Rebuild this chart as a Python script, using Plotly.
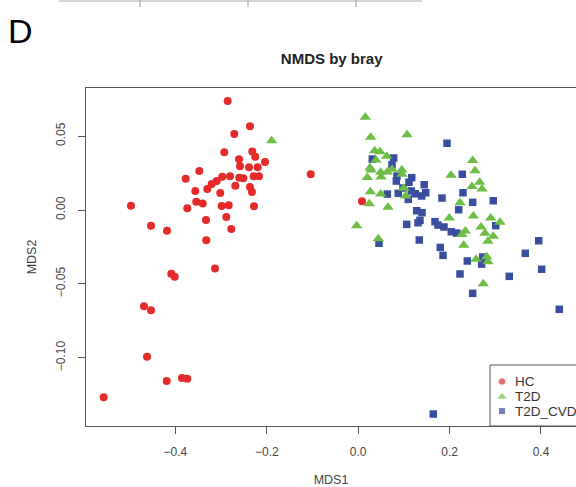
import plotly.graph_objects as go

# NMDS ordination scores (Bray-Curtis) per group
hc_mds1 = [-0.2856, -0.2368, -0.2711, -0.2930, -0.2317, -0.2252, -0.2608, -0.2039,
           -0.3477, -0.2586, -0.2389, -0.2199, -0.3775, -0.2974, -0.2805, -0.2602,
           -0.2514, -0.2287, -0.2171, -0.3096, -0.3206, -0.3302, -0.2689, -0.2368,
           -0.2324, -0.3565, -0.3018, -0.1039, -0.4972, -0.3543, -0.3403, -0.2987,
           -0.2834, -0.2280, -0.3740, -0.2886, -0.3330, -0.4534, -0.4184, -0.2777,
           -0.3324, -0.3133, -0.4090, -0.4015, -0.4687, -0.4534, -0.4621, -0.4190,
           -0.3856, -0.3740, -0.5569, 0.0083]
hc_mds2 = [0.0738, 0.0567, 0.0515, 0.0391, 0.0397, 0.0361, 0.0343, 0.0325,
           0.0264, 0.0296, 0.0289, 0.0289, 0.0212, 0.0225, 0.0228, 0.0219,
           0.0215, 0.0228, 0.0228, 0.0196, 0.0176, 0.0142, 0.0165, 0.0156,
           0.0122, 0.0129, 0.0115, 0.0242, 0.0029, 0.0056, 0.0045, 0.0027,
           0.0032, 0.0025, 0.0012, -0.0047, -0.0068, -0.0106, -0.0140, -0.0129,
           -0.0205, -0.0395, -0.0431, -0.0452, -0.0652, -0.0679, -0.0993, -0.1158,
           -0.1137, -0.1142, -0.1268, 0.0059]

t2d_mds1 = [-0.1893, 0.0155, 0.0274, 0.1068, 0.0361, 0.0477, 0.0624, 0.0389,
            0.0258, 0.0280, 0.0492, 0.0637, 0.0740, 0.0952, 0.0958, 0.0199,
            0.0499, 0.0265, 0.0492, 0.0996, 0.1039, 0.0243, 0.0652, -0.0033,
            0.0440, 0.2505, 0.2556, 0.2031, 0.2659, 0.2490, 0.2709, 0.2228,
            0.2519, 0.1993, 0.2899, 0.3103, 0.2687, 0.2344, 0.2271, 0.2775,
            0.2956, 0.2840, 0.2309, 0.2578, 0.2812, 0.2840, 0.2737]
t2d_mds2 = [0.0469, 0.0628, 0.0492, 0.0510, 0.0401, 0.0395, 0.0364, 0.0339,
            0.0286, 0.0271, 0.0255, 0.0257, 0.0276, 0.0271, 0.0242, 0.0221,
            0.0223, 0.0124, 0.0108, 0.0147, 0.0095, 0.0043, 0.0018, -0.0106,
            -0.0194, 0.0336, 0.0266, 0.0235, 0.0188, 0.0160, 0.0142, 0.0049,
            -0.0041, -0.0054, -0.0054, -0.0083, -0.0115, -0.0142, -0.0165, -0.0158,
            -0.0178, -0.0212, -0.0239, -0.0334, -0.0316, -0.0350, -0.0499]

cvd_mds1 = [0.1943, 0.0777, 0.0309, 0.0740, 0.0849, 0.0834, 0.1171, 0.1112,
            0.1446, 0.0980, 0.1162, 0.1249, 0.0637, 0.0877, 0.1477, 0.1389,
            0.1096, 0.1834, 0.2278, 0.2293, 0.2505, 0.2956, 0.2199, 0.1280,
            0.1396, 0.1352, 0.1309, 0.1061, 0.1681, 0.1746, 0.1877, 0.2037,
            0.2155, 0.3009, 0.0455, 0.1337, 0.1796, 0.1856, 0.3950, 0.3656,
            0.2387, 0.2724, 0.2702, 0.2228, 0.3306, 0.4015, 0.2505, 0.4400,
            0.1643]
cvd_mds2 = [0.0452, 0.0352, 0.0345, 0.0307, 0.0230, 0.0196, 0.0219, 0.0188,
            0.0171, 0.0149, 0.0129, 0.0110, 0.0108, 0.0113, 0.0117, 0.0095,
            0.0072, 0.0081, 0.0242, 0.0117, 0.0052, 0.0063, 0.0002, -0.0005,
            -0.0018, -0.0070, -0.0086, -0.0097, -0.0079, -0.0102, -0.0115, -0.0147,
            -0.0156, -0.0106, -0.0225, -0.0203, -0.0253, -0.0307, -0.0208, -0.0293,
            -0.0345, -0.0318, -0.0366, -0.0433, -0.0449, -0.0401, -0.0564, -0.0672,
            -0.1381]

groups = ["HC", "T2D", "T2D_CVD"]
colors = ["#E52A2A", "#6DBE45", "#3A4E9F"]
symbols = ["circle", "triangle-up", "square"]
sizes = [8, 10, 7.5]

x_tickvals = [-0.4, -0.2, 0.0, 0.2, 0.4]
x_ticktext = ["\u22120.4", "\u22120.2", "0.0", "0.2", "0.4"]
y_tickvals = [0.05, 0.0, -0.05, -0.10]
y_ticktext = ["0.05", "0.00", "\u22120.05", "\u22120.10"]

FONT = "Liberation Sans, Arial, Helvetica, sans-serif"
AXIS_COL = "#555555"
TEXT_COL = "#333333"

# plot area in pixels: x 86..576, y 88..426
PL, PW, PB, PH = 86, 490, 426, 338


def px_x(px):
    return (px - PL) / PW


def px_y(py):
    return (PB - py) / PH


fig = go.Figure()

series = {
    "T2D_CVD": (cvd_mds1, cvd_mds2),
    "T2D": (t2d_mds1, t2d_mds2),
    "HC": (hc_mds1, hc_mds2),
}
for name in ["T2D_CVD", "T2D", "HC"]:
    i = groups.index(name)
    xs, ys = series[name]
    fig.add_trace(go.Scatter(
        x=xs, y=ys, mode="markers", name=name, showlegend=False,
        marker=dict(symbol=symbols[i], color=colors[i], size=sizes[i]),
        hoverinfo="skip",
    ))

# key box in the lower right corner, drawn on its own small unit axes
key_y = [0.73, 0.48, 0.245]
fig.add_trace(go.Scatter(
    x=[0.14, 0.14, 0.14], y=key_y, mode="markers",
    xaxis="x2", yaxis="y2", showlegend=False, hoverinfo="skip",
    marker=dict(symbol=symbols, color=colors, size=[7.5, 9.5, 7]),
))
for g, yy in zip(groups, key_y):
    fig.add_annotation(x=0.265, y=yy, xref="x2", yref="y2", text=g,
                       showarrow=False, xanchor="left", yanchor="middle",
                       font=dict(family=FONT, size=13.5, color=TEXT_COL))

fig.add_shape(type="rect", xref="paper", yref="paper",
              x0=px_x(490), x1=1.05, y0=0, y1=px_y(365),
              line=dict(color=AXIS_COL, width=1))

# panel letter
fig.add_annotation(x=px_x(6), y=px_y(31), xref="paper", yref="paper",
                   text="D", showarrow=False, xanchor="left", yanchor="middle",
                   font=dict(family=FONT, size=34, color="black"))

# axis edge of the panel above
fig.add_shape(type="line", xref="paper", yref="paper",
              x0=px_x(59), x1=px_x(422), y0=px_y(1), y1=px_y(1),
              line=dict(color="#c8c8c8", width=1.5))
for px in [140, 248, 356]:
    fig.add_shape(type="line", xref="paper", yref="paper",
                  x0=px_x(px), x1=px_x(px), y0=px_y(0), y1=px_y(7),
                  line=dict(color="#9a9a9a", width=1))

fig.update_layout(
    width=576, height=487,
    margin=dict(l=PL, r=0, t=88, b=61, autoexpand=False),
    paper_bgcolor="white", plot_bgcolor="white",
    font=dict(family=FONT, color=TEXT_COL),
    title=dict(text="<b>NMDS by bray</b>", x=331.7 / 576, xref="container",
               xanchor="center", y=1 - 58.3 / 487, yref="container",
               yanchor="middle", font=dict(family=FONT, size=15, color="#222222")),
    xaxis=dict(
        range=[-0.5956, 0.4766], tickvals=x_tickvals, ticktext=x_ticktext,
        showgrid=False, zeroline=False, showline=True, mirror=True,
        linecolor=AXIS_COL, linewidth=1, ticks="outside", ticklen=7,
        tickcolor=AXIS_COL, tickfont=dict(family=FONT, size=12, color="#444444"),
        ticklabelstandoff=8,
        title=dict(text="MDS1", standoff=16,
                   font=dict(family=FONT, size=12.5, color="#444444")),
        automargin=False,
    ),
    yaxis=dict(
        range=[-0.1462, 0.0826], tickvals=y_tickvals, ticktext=y_ticktext,
        showgrid=False, zeroline=False, showline=True, mirror=False,
        linecolor=AXIS_COL, linewidth=1, ticks="outside", ticklen=7,
        tickcolor=AXIS_COL, tickangle=-90,
        tickfont=dict(family=FONT, size=12, color="#444444"),
        ticklabelstandoff=8,
        title=dict(text="MDS2", standoff=14,
                   font=dict(family=FONT, size=12.5, color="#444444")),
        automargin=False,
    ),
    xaxis2=dict(domain=[px_x(490), 1.0], range=[0, 1], anchor="y2", visible=False,
                fixedrange=True),
    yaxis2=dict(domain=[0.0, px_y(365)], range=[0, 1], anchor="x2", visible=False,
                fixedrange=True),
)

fig.write_html("out.html")
